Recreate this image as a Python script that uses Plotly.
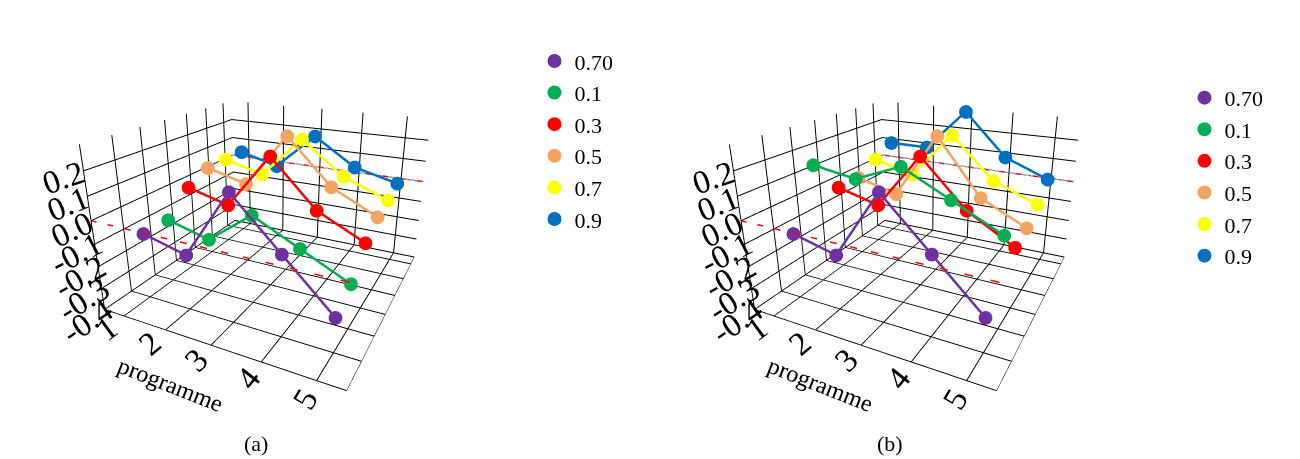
import plotly.graph_objects as go

programme = [1, 2, 3, 4, 5]
series_names = ["0.70", "0.1", "0.3", "0.5", "0.7", "0.9"]
colors = ["#7030a0", "#00b050", "#ff0000", "#f4a460", "#ffff00", "#0070c0"]
vals_a = [
    [-0.10, -0.15, 0.15, -0.05, -0.25],
    [-0.10, -0.15, 0.00, -0.10, -0.20],
    [0.00, -0.05, 0.20, 0.00, -0.10],
    [0.05, 0.00, 0.25, 0.05, -0.05],
    [0.05, 0.00, 0.20, 0.05, -0.03],
    [0.05, 0.00, 0.18, 0.05, 0.00],
]
vals_b = [
    [-0.10, -0.15, 0.15, -0.05, -0.25],
    [0.15, 0.12, 0.20, 0.10, 0.00],
    [0.00, -0.05, 0.20, 0.00, -0.12],
    [0.00, -0.05, 0.25, 0.00, -0.10],
    [0.05, 0.00, 0.22, 0.03, -0.05],
    [0.10, 0.10, 0.30, 0.10, 0.02],
]
zticks = [-0.4, -0.3, -0.2, -0.1, 0.0, 0.1, 0.2]

fig = go.Figure()
for vals, scene, leg in [(vals_a, "scene", "legend"), (vals_b, "scene2", "legend2")]:
    fig.add_trace(go.Scatter3d(x=[0.5, 5.5, 5.5, 0.5, 0.5], y=[0, 0, 6.5, 6.5, 0], z=[0]*5,
                               mode="lines", line=dict(color="red", width=3, dash="dash"),
                               showlegend=False, scene=scene, hoverinfo="skip"))
    for i, (name, c) in enumerate(zip(series_names, colors)):
        fig.add_trace(go.Scatter3d(
            x=programme, y=[i + 1]*5, z=vals[i], mode="lines+markers", name=name,
            line=dict(color=c, width=5), marker=dict(color=c, size=8),
            scene=scene, showlegend=False))
        fig.add_trace(go.Scatter3d(
            x=[None], y=[None], z=[None], mode="markers", name=name,
            marker=dict(color=c, size=14), scene=scene, legend=leg))

axcommon = dict(showbackground=False, gridcolor="black", linecolor="black", showline=True,
                showspikes=False,
                tickfont=dict(size=20, family="Liberation Serif", color="black"))
def scene_layout(dom):
    return dict(
        domain=dict(x=dom, y=[0.12, 1]),
        xaxis=dict(title=dict(text="programme", font=dict(size=24, family="Liberation Serif", color="black")),
                   tickvals=programme, range=[0.5, 5.5], **axcommon),
        yaxis=dict(title=dict(text=""), showticklabels=False, range=[0, 6.5], **axcommon),
        zaxis=dict(title=dict(text=""), tickvals=zticks, ticktext=[f"{t:.1f}" for t in zticks],
                   range=[-0.4, 0.3], **axcommon),
        aspectmode="manual", aspectratio=dict(x=1.2, y=1.2, z=0.8),
        camera=dict(eye=dict(x=1.0, y=-2.0, z=0.9)),
    )

legfont = dict(size=22, family="Liberation Serif", color="black")
fig.update_layout(
    width=1300, height=459, paper_bgcolor="white", margin=dict(l=0, r=0, t=0, b=0),
    scene=scene_layout([0.0, 0.41]), scene2=scene_layout([0.5, 0.91]),
    legend=dict(x=0.405, y=0.93, font=legfont, bgcolor="rgba(0,0,0,0)"),
    legend2=dict(x=0.905, y=0.85, font=legfont, bgcolor="rgba(0,0,0,0)"),
    annotations=[
        dict(text="(a)", x=0.18, y=0.02, xref="paper", yref="paper", showarrow=False, font=legfont),
        dict(text="(b)", x=0.69, y=0.02, xref="paper", yref="paper", showarrow=False, font=legfont),
    ],
)
fig.write_html("out.html")
